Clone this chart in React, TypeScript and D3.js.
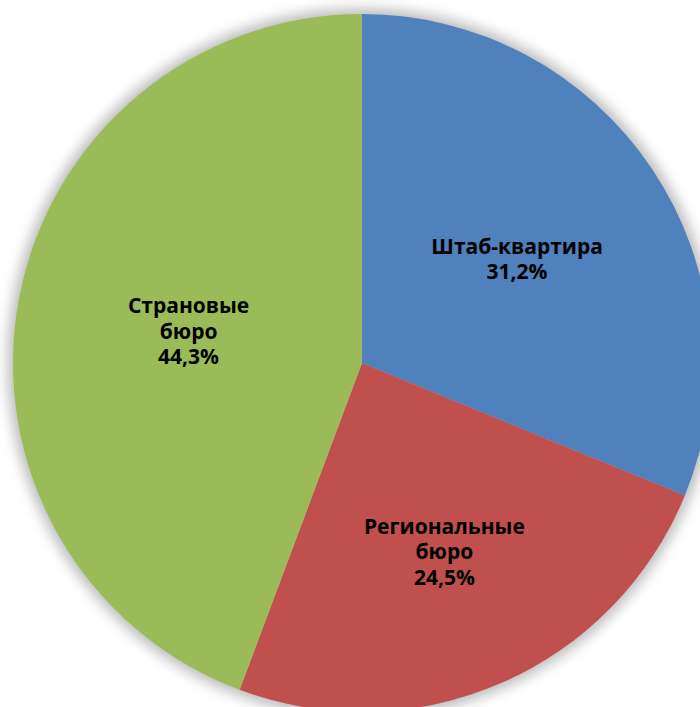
import React from "react";
import * as d3 from "d3";

const categories = ["Штаб-квартира", "Региональные бюро", "Страновые бюро"];
const labelLines = [["Штаб-квартира"], ["Региональные", "бюро"], ["Страновые", "бюро"]];
const values = [31.2, 24.5, 44.3];
const colors = ["#4F81BD", "#C0504D", "#9BBB59"];

const W = 700;
const H = 707;
const cx = 362;
const cy = 363;
const R = 349;
const labelRadiusFrac = [0.535, 0.59, 0.505];

export default function App() {
  const pie = d3.pie<number>().sort(null).value((d) => d);
  const arcs = pie(values);
  const arc = d3.arc<d3.PieArcDatum<number>>().innerRadius(0).outerRadius(R);
  const fmt = (v: number) => v.toFixed(1).replace(".", ",") + "%";
  return (
    <svg width={W} height={H} style={{ position: "absolute", left: 0, top: 0, background: "#fff" }}>
      <defs>
        <filter id="glow" x="-20%" y="-20%" width="140%" height="140%">
          <feGaussianBlur stdDeviation="7" />
        </filter>
      </defs>
      <circle cx={cx} cy={cy} r={R + 5} fill="#000" opacity={0.28} filter="url(#glow)" />
      <g transform={`translate(${cx},${cy})`}>
        {arcs.map((a, i) => (
          <path key={categories[i]} d={arc(a) || ""} fill={colors[i]} />
        ))}
        {arcs.map((a, i) => {
          const mid = (a.startAngle + a.endAngle) / 2;
          const r = R * labelRadiusFrac[i];
          const x = Math.sin(mid) * r;
          const y = -Math.cos(mid) * r;
          const lines = [...labelLines[i], fmt(values[i])];
          const lh = 25.5;
          const y0 = y - ((lines.length - 1) * lh) / 2;
          return (
            <text
              key={"l" + i}
              x={x}
              textAnchor="middle"
              fontFamily="'Open Sans', sans-serif"
              fontWeight={700}
              fontSize={21}
              fill="#000"
            >
              {lines.map((t, j) => (
                <tspan key={j} x={x} y={y0 + j * lh} dy="0.35em">
                  {t}
                </tspan>
              ))}
            </text>
          );
        })}
      </g>
    </svg>
  );
}
